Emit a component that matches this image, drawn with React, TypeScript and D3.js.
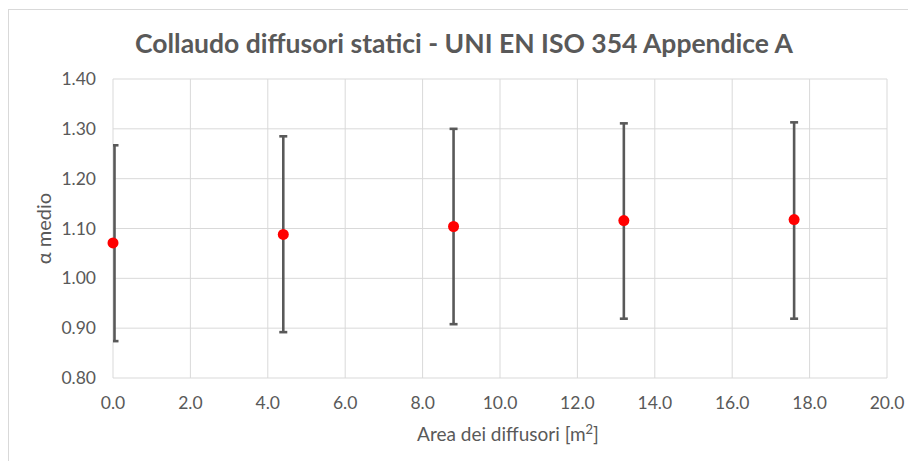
import React from 'react'
import * as d3 from 'd3'

// data
const area = [0, 4.4, 8.8, 13.2, 17.6]
const alphaMean = [1.071, 1.088, 1.104, 1.116, 1.118]
const alphaLow = [0.874, 0.892, 0.908, 0.919, 0.919]
const alphaHigh = [1.267, 1.285, 1.3, 1.311, 1.313]
const xTicks = [0, 2, 4, 6, 8, 10, 12, 14, 16, 18, 20]
const yTicks = [0.8, 0.9, 1.0, 1.1, 1.2, 1.3, 1.4]

const W = 908
const H = 461
const m = { left: 113, right: 887, top: 79, bottom: 378 }
const font = 'Lato, Calibri, "Open Sans", sans-serif'
const grey = '#595959'

export default function App() {
	const x = d3.scaleLinear().domain([0, 20]).range([m.left, m.right])
	const y = d3.scaleLinear().domain([0.8, 1.4]).range([m.bottom, m.top])
	const cap = 4

	return (
		<div style={{ position: 'absolute', left: 0, top: 0 }}>
			<svg width={W} height={H} style={{ display: 'block', background: '#fff' }}>
				<defs>
					<clipPath id="plot">
						<rect x={m.left} y={m.top - 10} width={m.right - m.left} height={m.bottom - m.top + 20} />
					</clipPath>
				</defs>
				<rect x={8.5} y={9.5} width={W} height={H} fill="none" stroke="#d9d9d9" />
				<text x={464} y={53} textAnchor="middle" fontFamily={font} fontWeight="bold" fontSize={26.5} fill={grey}>
					Collaudo diffusori statici - UNI EN ISO 354 Appendice A
				</text>

				{xTicks.map(t => (
					<line key={'gx' + t} x1={x(t)} x2={x(t)} y1={m.top} y2={m.bottom} stroke="#d9d9d9" strokeWidth={1} />
				))}
				{yTicks.map(t => (
					<line key={'gy' + t} x1={m.left} x2={m.right} y1={y(t)} y2={y(t)} stroke="#d9d9d9" strokeWidth={1} />
				))}

				{yTicks.map(t => (
					<text key={'ly' + t} x={96} y={y(t) + 6} textAnchor="end" fontFamily={font} fontSize={17.5} fill={grey}>
						{d3.format('.2f')(t)}
					</text>
				))}
				{xTicks.map(t => (
					<text key={'lx' + t} x={x(t)} y={409} textAnchor="middle" fontFamily={font} fontSize={17.5} fill={grey}>
						{d3.format('.1f')(t)}
					</text>
				))}

				<text x={(m.left + m.right) / 2 + 8} y={441} textAnchor="middle" fontFamily={font} fontSize={19} fill={grey}>
					Area dei diffusori [m<tspan dy={-7} fontSize={13}>2</tspan><tspan dy={7}>]</tspan>
				</text>
				<text transform={`translate(51,${(m.top + m.bottom) / 2}) rotate(-90)`} textAnchor="middle" fontFamily={font} fontSize={20} fill={grey}>
					α medio
				</text>

				<g clipPath="url(#plot)" stroke={grey}>
					{area.map((a, i) => {
						const cx = Math.max(x(a), m.left + 1.5)
						return (
							<g key={'e' + i}>
								<line x1={cx} x2={cx} y1={y(alphaLow[i])} y2={y(alphaHigh[i])} strokeWidth={2.6} />
								<line x1={cx - cap} x2={cx + cap} y1={y(alphaLow[i])} y2={y(alphaLow[i])} strokeWidth={2.6} />
								<line x1={cx - cap} x2={cx + cap} y1={y(alphaHigh[i])} y2={y(alphaHigh[i])} strokeWidth={2.6} />
							</g>
						)
					})}
				</g>

				{area.map((a, i) => (
					<circle key={'p' + i} cx={x(a)} cy={y(alphaMean[i])} r={5.5} fill="#ff0000" />
				))}
			</svg>
		</div>
	)
}
